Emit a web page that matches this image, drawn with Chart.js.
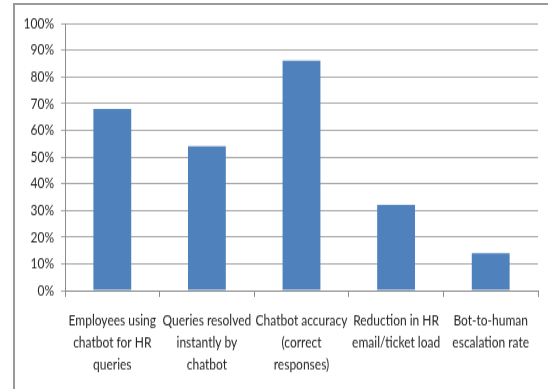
<!DOCTYPE html>
<html>
<head>
<meta charset="utf-8">
<script src="https://cdn.jsdelivr.net/npm/chart.js@4/dist/chart.umd.min.js"></script>
<style>
  html, body { margin: 0; padding: 0; background: #fff; overflow: hidden; }
  #frame {
    position: absolute; left: 13px; top: 3px; width: 600px; height: 500px;
    border-top: 2px solid #9a9a9a; border-left: 2px solid #9a9a9a; box-sizing: border-box;
  }
  /* chart is laid out at 548x300 and stretched to the 389px-tall window */
  #wrap {
    position: absolute; left: 0; top: 0; width: 548px; height: 300px;
    transform-origin: 0 0; transform: scaleY(1.2967);
  }
</style>
</head>
<body>
<div id="frame"></div>
<div id="wrap"><canvas id="c"></canvas></div>
<script>
// HR chatbot adoption metrics (percent)
const categories = [
  ["Employees using", "chatbot for HR", "queries"],
  ["Queries resolved", "instantly by", "chatbot"],
  ["Chatbot accuracy", "(correct", "responses)"],
  ["Reduction in HR", "email/ticket load"],
  ["Bot-to-human", "escalation rate"]
];
const shares = [68, 54, 86, 32, 14];
const yMin = 0;
const yMax = 100;
const yStep = 10;

const yFont = { family: "Lato, 'Open Sans', sans-serif", size: 12 };
const xFont = { family: "Lato, 'Open Sans', sans-serif", size: 12, lineHeight: 1.45 };
const textColor = "#262626";

new Chart(document.getElementById("c"), {
  type: "bar",
  data: {
    labels: categories,
    datasets: [{
      data: shares,
      backgroundColor: "#4F81BD",
      borderWidth: 0,
      barPercentage: 0.4,
      categoryPercentage: 1.0
    }]
  },
  options: {
    responsive: true,
    maintainAspectRatio: false,
    animation: false,
    layout: { padding: { left: 15, right: 10, top: 18, bottom: 0 } },
    plugins: { legend: { display: false }, tooltip: { enabled: false } },
    scales: {
      x: {
        grid: { offset: true, drawOnChartArea: false, drawTicks: true, tickLength: 5, color: "#8c8c8c" },
        border: { color: "#8c8c8c" },
        ticks: { maxRotation: 0, autoSkip: false, padding: 9, font: xFont, color: textColor },
        afterFit: s => { s.height = 76; }
      },
      y: {
        min: yMin,
        max: yMax,
        ticks: { stepSize: yStep, padding: 7, font: yFont, color: textColor, callback: v => v + "%" },
        grid: { color: "#a8a8a8", tickLength: 4 },
        border: { color: "#8c8c8c" },
        afterFit: s => { s.width = 50; }
      }
    }
  }
});
</script>
</body>
</html>
